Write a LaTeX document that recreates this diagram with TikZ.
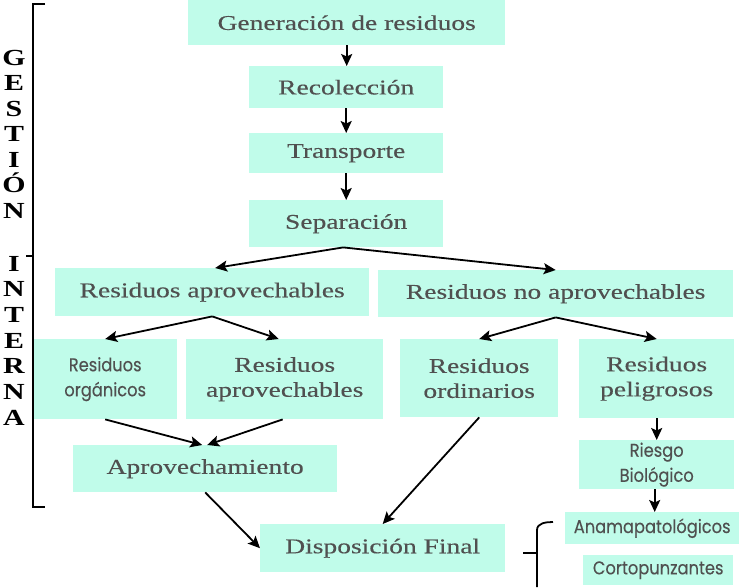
\documentclass[tikz,border=0pt]{standalone}
\usepackage{fontspec}
\setmainfont{Liberation Serif}
\newfontfamily\wideserif[FakeStretch=1.31,FakeBold=0.3]{Liberation Serif}
\newfontfamily\vserif[FakeStretch=1.3]{Liberation Serif}
\newfontfamily\widesans[FakeStretch=0.88,FakeBold=0.2]{Poppins}
\usetikzlibrary{arrows.meta}
\definecolor{boxfill}{RGB}{192,252,234}
\definecolor{txtgray}{RGB}{80,80,80}
\tikzset{
  box/.style={rectangle, fill=boxfill, inner sep=0pt, anchor=north west, align=center,
    text=txtgray, font=\wideserif\fontsize{21}{25}\selectfont},
  sbox/.style={box, font=\widesans\fontsize{18.5}{25}\selectfont},
  arr/.style={-{Stealth[length=12pt,width=11pt,inset=2.5pt]}, line width=1.8pt, black},
  vletter/.style={anchor=base, inner sep=0pt, font=\vserif\bfseries\fontsize{23}{24}\selectfont},
  brk/.style={line width=1.8pt, black}
}
\begin{document}
\begin{tikzpicture}[x=1pt,y=-1pt]
\useasboundingbox (0,0) rectangle (739,587);
% boxes
\node[box, minimum width=317pt, minimum height=45pt] (gen) at (188,0) {Generación de residuos};
\node[box, minimum width=194pt, minimum height=42pt] (rec) at (249,66) {Recolección};
\node[box, minimum width=194pt, minimum height=40pt] (tra) at (249,133) {Transporte};
\node[box, minimum width=194pt, minimum height=47pt] (sep) at (249,200) {Separación};
\node[box, minimum width=314pt, minimum height=48pt] (wa) at (55,268) {Residuos aprovechables};
\node[box, minimum width=355pt, minimum height=47pt] (na) at (378,270) {Residuos no aprovechables};
\node[sbox, minimum width=144pt, minimum height=80pt] (org) at (33,339) {Residuos\\orgánicos};
\node[box, minimum width=197pt, minimum height=80pt] (ap2) at (186,339) {Residuos\\aprovechables};
\node[box, minimum width=158pt, minimum height=78pt] (ord) at (400,339) {Residuos\\ordinarios};
\node[box, minimum width=155pt, minimum height=79pt] (pel) at (579,339) {Residuos\\peligrosos};
\node[box, minimum width=264pt, minimum height=47pt] (apr) at (73,445) {Aprovechamiento};
\node[sbox, minimum width=155pt, minimum height=49pt] (rie) at (579,440) {Riesgo\\Biológico};
\node[box, minimum width=245pt, minimum height=48pt] (disp) at (260,524) {Disposición Final};
\node[sbox, minimum width=174pt, minimum height=32pt] (ana) at (565,512) {Anamapatológicos};
\node[sbox, minimum width=150pt, minimum height=30pt] (cor) at (583,555) {Cortopunzantes};
% arrows
\draw[arr] (gen.south) -- (gen.south |- rec.north);
\draw[arr] (rec.south) -- (tra.north);
\draw[arr] (tra.south) -- (sep.north);
\draw[arr] ([xshift=-3pt]sep.south) -- ([xshift=3pt]wa.north);
\draw[arr] ([xshift=-3pt]sep.south) -- (na.north);
\draw[arr] (wa.south) -- (org.north);
\draw[arr] (wa.south) -- ([xshift=-6pt]ap2.north);
\draw[arr] (na.south) -- (ord.north);
\draw[arr] (na.south) -- (pel.north);
\draw[arr] (org.south) -- ([xshift=-3pt]apr.north);
\draw[arr] ([xshift=-2pt]ap2.south) -- ([xshift=2pt]apr.north);
\draw[arr] (apr.south) -- (disp.west);
\draw[arr] (ord.south) -- (disp.north);
\draw[arr] (pel.south) -- (rie.north);
\draw[arr] ([xshift=-2pt]rie.south) -- ([xshift=-2pt]rie.south |- ana.north);
% left brace
\coordinate (lbt) at (45,4);
\coordinate (lbm) at (26,256);
\coordinate (lbb) at (45,507);
\draw[brk] (lbt) -- (33,4) -- (33,507) -- (lbb);
\draw[brk] (33,256) -- (lbm);
% vertical words
\foreach \l [count=\i] in {G,E,S,T,I,Ó,N}
  \node[vletter] (g\i) at (14,{65+(\i-1)*25.5}) {\l};
\foreach \l [count=\i] in {I,N,T,E,R,N,A}
  \node[vletter] (n\i) at (14,{271+(\i-1)*25.7}) {\l};
% right brace
\coordinate (rbt) at (553,522);
\coordinate (rbm) at (523,553);
\draw[brk] (rbt) to[out=180,in=90] (537,530) -- (537,587);
\draw[brk] (537,553) -- (rbm);
\end{tikzpicture}
\end{document}
